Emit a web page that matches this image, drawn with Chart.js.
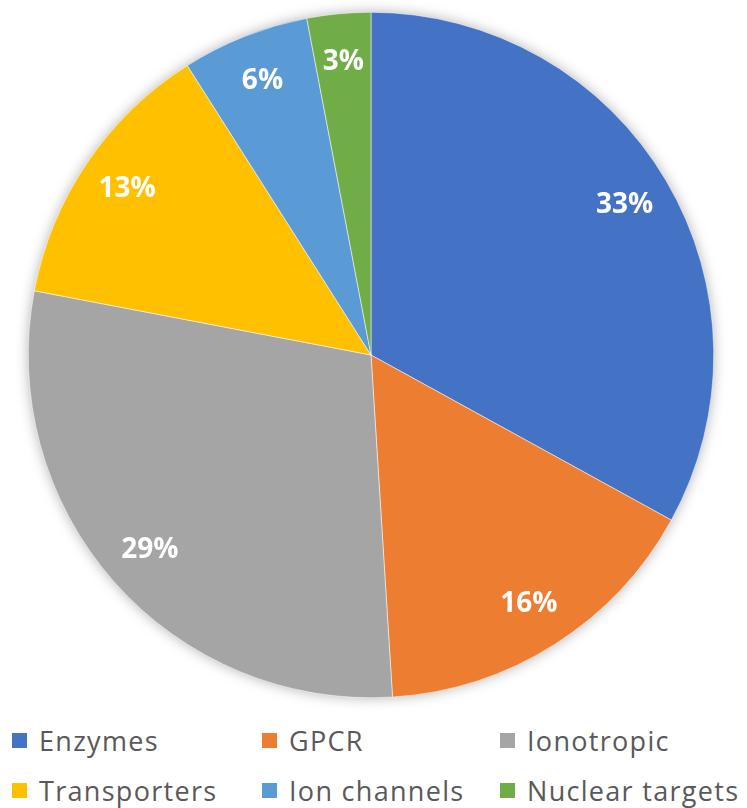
<!DOCTYPE html>
<html>
<head>
<meta charset="utf-8">
<script src="https://cdn.jsdelivr.net/npm/chart.js@4"></script>
<style>
  html, body { margin: 0; padding: 0; background: #fff; }
  #wrap { position: relative; width: 747px; height: 808px; }
  #chart-box { position: absolute; left: 0; top: 0; width: 747px; height: 710px; }
  #legend { position: absolute; left: 0; top: 722px; width: 747px; }
  .item { position: absolute; display: flex; align-items: center; font-family: "Open Sans", sans-serif; font-size: 27px; letter-spacing: 1.3px; color: #595959; white-space: nowrap; }
  .item span.box { display: inline-block; width: 15px; height: 15px; margin-right: 12px; }
</style>
</head>
<body>
<div id="wrap">
  <div id="chart-box"><canvas id="pie"></canvas></div>
  <div id="legend"></div>
</div>
<script>
// ---- data ----
const labels = ['Enzymes', 'GPCR', 'Ionotropic', 'Transporters', 'Ion channels', 'Nuclear targets'];
const values = [33, 16, 29, 13, 6, 3];
const colors = ['#4472C4', '#ED7D31', '#A5A5A5', '#FFC000', '#5B9BD5', '#70AD47'];

// soft shadow behind the whole pie
const pieShadow = {
  id: 'pieShadow',
  beforeDatasetsDraw(chart) {
    const arc = chart.getDatasetMeta(0).data[0];
    if (!arc) return;
    const { x, y, outerRadius } = arc.getProps(['x', 'y', 'outerRadius'], true);
    const ctx = chart.ctx;
    ctx.save();
    ctx.shadowColor = 'rgba(0,0,0,0.35)';
    ctx.shadowBlur = 14;
    ctx.fillStyle = '#ffffff';
    ctx.beginPath();
    ctx.arc(x, y, outerRadius - 1, 0, Math.PI * 2);
    ctx.fill();
    ctx.restore();
  }
};

// percentage labels inside slices
const pctLabels = {
  id: 'pctLabels',
  afterDatasetsDraw(chart) {
    const ctx = chart.ctx;
    const meta = chart.getDatasetMeta(0);
    ctx.save();
    ctx.font = 'bold 28px "Open Sans", sans-serif';
    ctx.fillStyle = '#ffffff';
    ctx.textAlign = 'center';
    ctx.textBaseline = 'middle';
    meta.data.forEach((arc, i) => {
      const p = arc.getProps(['x', 'y', 'startAngle', 'endAngle', 'outerRadius'], true);
      const mid = (p.startAngle + p.endAngle) / 2;
      const r = p.outerRadius * 0.86;
      ctx.fillText(values[i] + '%', p.x + Math.cos(mid) * r, p.y + Math.sin(mid) * r);
    });
    ctx.restore();
  }
};

new Chart(document.getElementById('pie'), {
  type: 'pie',
  data: {
    labels: labels,
    datasets: [{ data: values, backgroundColor: colors, borderColor: '#ffffff', borderWidth: 0.5 }]
  },
  options: {
    responsive: true, maintainAspectRatio: false, animation: false,
    layout: { padding: { left: 28, right: 33, top: 12, bottom: 12 } },
    plugins: { legend: { display: false }, tooltip: { enabled: false } }
  },
  plugins: [pieShadow, pctLabels]
});

// legend, 3 columns x 2 rows
const legendEl = document.getElementById('legend');
const colX = [12, 262, 500];
const rowY = [0, 50];
labels.forEach((lab, i) => {
  const div = document.createElement('div');
  div.className = 'item';
  div.style.left = colX[i % 3] + 'px';
  div.style.top = rowY[Math.floor(i / 3)] + 'px';
  div.innerHTML = `<span class="box" style="background:${colors[i]}"></span>${lab}`;
  legendEl.appendChild(div);
});
</script>
</body>
</html>
